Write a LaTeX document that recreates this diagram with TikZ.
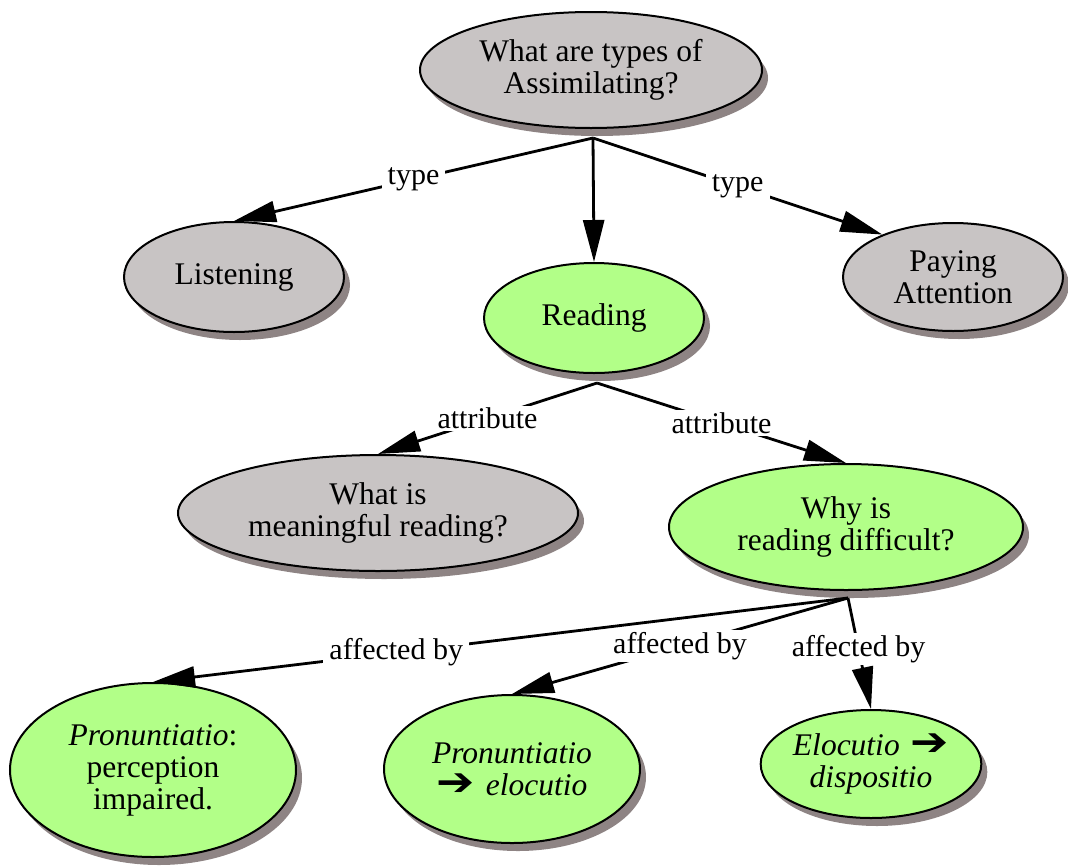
\documentclass[tikz,border=0pt]{standalone}
\usepackage{fontspec}
\setmainfont{Liberation Serif}
\newfontfamily\symfont{DejaVu Sans}
\usetikzlibrary{shapes.geometric,arrows.meta,shadows}
\definecolor{grayfill}{HTML}{C8C4C4}
\definecolor{shadowcol}{HTML}{8E8484}
\definecolor{greenfill}{HTML}{B2FF88}
\newcommand{\harr}{\scalebox{1.45}[1.25]{\symfont ➔}}
\begin{document}
\begin{tikzpicture}[x=1pt,y=-1pt,
  concept/.style={ellipse, draw=black, line width=2pt, inner sep=0pt, align=center,
    font=\rmfamily\fontsize{31.5}{32}\selectfont,
    drop shadow={shadow xshift=6pt, shadow yshift=-8pt, fill=shadowcol, opacity=1}},
  graynode/.style={concept, fill=grayfill},
  greennode/.style={concept, fill=greenfill},
  link/.style={line width=2.8pt, -{Triangle[length=42pt,width=21pt]}},
  lbl/.style={fill=white, inner xsep=6pt, inner ysep=2pt, font=\rmfamily\fontsize{30}{32}\selectfont, pos=0.5}
]
\useasboundingbox (0,0) rectangle (1068,865);

\node[graynode, minimum width=342pt, minimum height=116pt] (q) at (591,70) {What are types of\\Assimilating?};
\node[graynode, minimum width=220pt, minimum height=110pt] (lis) at (234,277) {Listening};
\node[greennode, minimum width=220pt, minimum height=110pt] (read) at (594,318) {Reading};
\node[graynode, minimum width=220pt, minimum height=108pt] (pay) at (953,277) {Paying\\Attention};
\node[graynode, minimum width=400pt, minimum height=116pt] (mean) at (378,513) {What is\\meaningful reading?};
\node[greennode, minimum width=354pt, minimum height=126pt] (why) at (846,527) {Why is\\reading difficult?};
\node[greennode, minimum width=286pt, minimum height=174pt] (pron) at (153,770) {\textit{Pronuntiatio}:\\perception\\impaired.};
\node[greennode, minimum width=256pt, minimum height=148pt] (mid) at (512,769) {\textit{Pronuntiatio}\\\harr\hspace{0.35em}\textit{elocutio}};
\node[greennode, minimum width=219pt, minimum height=108pt] (eloc) at (871,764) {\textit{Elocutio}\hspace{0.35em}\harr\\\textit{dispositio}};

\coordinate (j1) at (593,138);
\coordinate (j2) at (597,383);
\coordinate (j3) at (848,598);

\draw[link] (j1) -- node[lbl]{type} (lis.north);
\draw[link] (j1) -- (read.north);
\draw[link] (j1) -- node[lbl]{type} (pay.149);
\draw[link] (j2) -- node[lbl]{attribute} (mean.north);
\draw[link] (j2) -- node[lbl]{attribute} (why.north);
\draw[link] (j3) -- node[lbl,pos=0.65]{affected by} (pron.north);
\draw[link] (j3) -- node[lbl]{affected by} (mid.north);
\draw[link] (j3) -- node[lbl,pos=0.46]{affected by} (eloc.north);
\end{tikzpicture}
\end{document}
